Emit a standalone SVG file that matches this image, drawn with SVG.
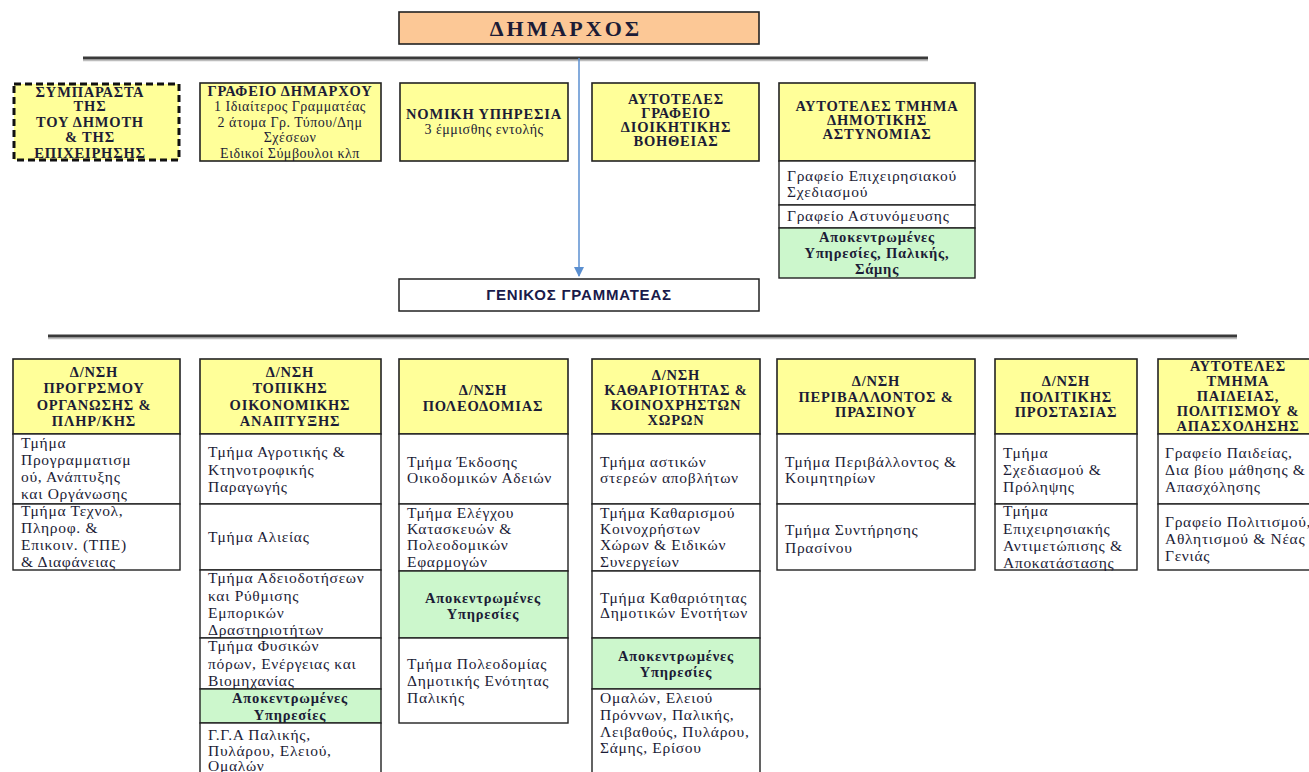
<svg xmlns="http://www.w3.org/2000/svg" width="1309" height="772" viewBox="0 0 1309 772">
<style>
  .y{fill:#ffff99;stroke:#222;stroke-width:1.6}
  .w{fill:#ffffff;stroke:#222;stroke-width:1.4}
  .g{fill:#ccf7cc;stroke:#222;stroke-width:1.4}
  .o{fill:#fcc896;stroke:#222;stroke-width:1.6}
  .dash{fill:#ffff99;stroke:#111;stroke-width:3;stroke-dasharray:7 4}
  text{font-family:"Liberation Serif","Times New Roman",serif;fill:#1c1c36}
  .b{font-weight:bold;font-size:14.5px;text-anchor:middle;letter-spacing:0.8px}
  .c{font-size:14px;text-anchor:middle;letter-spacing:0.5px}
  .r{font-size:15.5px;letter-spacing:0.7px}
  .gb{font-weight:bold;font-size:14.5px;text-anchor:middle;letter-spacing:0.8px}
  .sep{stroke:#3a3a3a;stroke-width:3}
  .sep2{stroke:#bdbdbd;stroke-width:1.5}
</style>
<defs>
  <marker id="ah" viewBox="0 0 10 10" refX="9" refY="5" markerWidth="7" markerHeight="7" orient="auto">
    <path d="M0,0 L10,5 L0,10 z" fill="#5b8fd0"/>
  </marker>
</defs>

<g id="connectors">
  <line class="sep2" x1="83" y1="60.5" x2="928" y2="60.5"/>
  <line class="sep" x1="83" y1="58" x2="928" y2="58"/>
  <line class="sep2" x1="48" y1="338.5" x2="1237" y2="338.5"/>
  <line class="sep" x1="48" y1="336" x2="1237" y2="336"/>
  <line x1="579" y1="58" x2="579" y2="276" stroke="#5b8fd0" stroke-width="1.5" marker-end="url(#ah)"/>
</g>

<g id="dimarxos">
  <rect class="o" x="399" y="12" width="360" height="32"/>
  <text x="566" y="36" style="font-weight:bold;font-size:22px;text-anchor:middle;letter-spacing:3px">ΔΗΜΑΡΧΟΣ</text>
</g>

<g id="symparastatis">
  <rect class="dash" x="14" y="84" width="165" height="76"/>
  <text class="b" x="90" y="97">ΣΥΜΠΑΡΑΣΤΑ</text>
  <text class="b" x="90" y="111">ΤΗΣ</text>
  <text class="b" x="90" y="127">ΤΟΥ ΔΗΜΟΤΗ</text>
  <text class="b" x="90" y="142">&amp; ΤΗΣ</text>
  <text class="b" x="90" y="158">ΕΠΙΧΕΙΡΗΣΗΣ</text>
</g>

<g id="grafeio-dimarxou">
  <rect class="y" x="200" y="83" width="181" height="78"/>
  <text class="b" x="290" y="96">ΓΡΑΦΕΙΟ ΔΗΜΑΡΧΟΥ</text>
  <text class="c" x="290" y="111">1 Ιδιαίτερος Γραμματέας</text>
  <text class="c" x="290" y="127">2 άτομα Γρ. Τύπου/Δημ</text>
  <text class="c" x="290" y="142">Σχέσεων</text>
  <text class="c" x="290" y="158">Ειδικοί Σύμβουλοι κλπ</text>
</g>

<g id="nomiki">
  <rect class="y" x="400" y="83" width="168" height="78"/>
  <text class="b" x="484" y="119">ΝΟΜΙΚΗ ΥΠΗΡΕΣΙΑ</text>
  <text class="c" x="484" y="134">3 έμμισθης εντολής</text>
</g>

<g id="dioikitiki">
  <rect class="y" x="592" y="83" width="167" height="78"/>
  <text class="b" x="676" y="104">ΑΥΤΟΤΕΛΕΣ</text>
  <text class="b" x="676" y="118">ΓΡΑΦΕΙΟ</text>
  <text class="b" x="676" y="132">ΔΙΟΙΚΗΤΙΚΗΣ</text>
  <text class="b" x="676" y="146">ΒΟΗΘΕΙΑΣ</text>
</g>

<g id="astynomia">
  <rect class="y" x="779" y="83" width="196" height="78"/>
  <text class="b" x="877" y="111">ΑΥΤΟΤΕΛΕΣ ΤΜΗΜΑ</text>
  <text class="b" x="877" y="125">ΔΗΜΟΤΙΚΗΣ</text>
  <text class="b" x="877" y="139">ΑΣΤΥΝΟΜΙΑΣ</text>
  <rect class="w" x="779" y="161" width="196" height="44"/>
  <text class="r" x="787" y="181">Γραφείο Επιχειρησιακού</text>
  <text class="r" x="787" y="197">Σχεδιασμού</text>
  <rect class="w" x="779" y="205" width="196" height="23"/>
  <text class="r" x="787" y="221">Γραφείο Αστυνόμευσης</text>
  <rect class="g" x="779" y="228" width="196" height="50"/>
  <text class="gb" x="877" y="242">Αποκεντρωμένες</text>
  <text class="gb" x="877" y="258">Υπηρεσίες, Παλικής,</text>
  <text class="gb" x="877" y="274">Σάμης</text>
</g>

<g id="genikos">
  <rect x="399" y="279" width="360" height="32" fill="#fff" stroke="#222" stroke-width="1.5"/>
  <text x="579" y="300" style="font-family:'Liberation Sans',Arial,sans-serif;font-weight:bold;font-size:15px;letter-spacing:0.8px;text-anchor:middle;fill:#1a1a4a">ΓΕΝΙΚΟΣ ΓΡΑΜΜΑΤΕΑΣ</text>
</g>

<g id="col1">
  <rect class="y" x="13" y="359" width="167" height="75"/>
  <text class="b" x="94" y="377">Δ/ΝΣΗ</text>
  <text class="b" x="94" y="393">ΠΡΟΓΡΣΜΟΥ</text>
  <text class="b" x="94" y="410">ΟΡΓΑΝΩΣΗΣ &amp;</text>
  <text class="b" x="94" y="426">ΠΛΗΡ/ΚΗΣ</text>
  <rect class="w" x="13" y="434" width="167" height="70"/>
  <text class="r" x="21" y="448">Τμήμα</text>
  <text class="r" x="21" y="465">Προγραμματισμ</text>
  <text class="r" x="21" y="482">ού, Ανάπτυξης</text>
  <text class="r" x="21" y="499">και Οργάνωσης</text>
  <rect class="w" x="13" y="504" width="167" height="66"/>
  <text class="r" x="21" y="516">Τμήμα Τεχνολ,</text>
  <text class="r" x="21" y="533">Πληροφ. &amp;</text>
  <text class="r" x="21" y="550">Επικοιν. (ΤΠΕ)</text>
  <text class="r" x="21" y="567">&amp; Διαφάνειας</text>
</g>

<g id="col2">
  <rect class="y" x="200" y="359" width="181" height="75"/>
  <text class="b" x="290" y="377">Δ/ΝΣΗ</text>
  <text class="b" x="290" y="393">ΤΟΠΙΚΗΣ</text>
  <text class="b" x="290" y="410">ΟΙΚΟΝΟΜΙΚΗΣ</text>
  <text class="b" x="290" y="426">ΑΝΑΠΤΥΞΗΣ</text>
  <rect class="w" x="200" y="434" width="181" height="70"/>
  <text class="r" x="208" y="457">Τμήμα Αγροτικής &amp;</text>
  <text class="r" x="208" y="475">Κτηνοτροφικής</text>
  <text class="r" x="208" y="492">Παραγωγής</text>
  <rect class="w" x="200" y="504" width="181" height="66"/>
  <text class="r" x="208" y="542">Τμήμα Αλιείας</text>
  <rect class="w" x="200" y="570" width="181" height="68"/>
  <text class="r" x="208" y="583">Τμήμα Αδειοδοτήσεων</text>
  <text class="r" x="208" y="601">και Ρύθμισης</text>
  <text class="r" x="208" y="618">Εμπορικών</text>
  <text class="r" x="208" y="635">Δραστηριοτήτων</text>
  <rect class="w" x="200" y="638" width="181" height="51"/>
  <text class="r" x="208" y="651">Τμήμα Φυσικών</text>
  <text class="r" x="208" y="669">πόρων, Ενέργειας και</text>
  <text class="r" x="208" y="686">Βιομηχανίας</text>
  <rect class="g" x="200" y="689" width="181" height="34"/>
  <text class="gb" x="290" y="703">Αποκεντρωμένες</text>
  <text class="gb" x="290" y="720">Υπηρεσίες</text>
  <rect class="w" x="200" y="723" width="181" height="55"/>
  <text class="r" x="208" y="740">Γ.Γ.Α Παλικής,</text>
  <text class="r" x="208" y="756">Πυλάρου, Ελειού,</text>
  <text class="r" x="208" y="771">Ομαλών</text>
</g>

<g id="col3">
  <rect class="y" x="399" y="359" width="169" height="75"/>
  <text class="b" x="483" y="395">Δ/ΝΣΗ</text>
  <text class="b" x="483" y="411">ΠΟΛΕΟΔΟΜΙΑΣ</text>
  <rect class="w" x="399" y="434" width="169" height="70"/>
  <text class="r" x="407" y="467">Τμήμα Έκδοσης</text>
  <text class="r" x="407" y="483">Οικοδομικών Αδειών</text>
  <rect class="w" x="399" y="504" width="169" height="67"/>
  <text class="r" x="407" y="518">Τμήμα Ελέγχου</text>
  <text class="r" x="407" y="534">Κατασκευών &amp;</text>
  <text class="r" x="407" y="550">Πολεοδομικών</text>
  <text class="r" x="407" y="567">Εφαρμογών</text>
  <rect class="g" x="399" y="571" width="169" height="67"/>
  <text class="gb" x="483" y="603">Αποκεντρωμένες</text>
  <text class="gb" x="483" y="619">Υπηρεσίες</text>
  <rect class="w" x="399" y="638" width="169" height="85"/>
  <text class="r" x="407" y="669">Τμήμα Πολεοδομίας</text>
  <text class="r" x="407" y="686">Δημοτικής Ενότητας</text>
  <text class="r" x="407" y="703">Παλικής</text>
</g>

<g id="col4">
  <rect class="y" x="592" y="359" width="168" height="75"/>
  <text class="b" x="676" y="380">Δ/ΝΣΗ</text>
  <text class="b" x="676" y="395">ΚΑΘΑΡΙΟΤΗΤΑΣ &amp;</text>
  <text class="b" x="676" y="410">ΚΟΙΝΟΧΡΗΣΤΩΝ</text>
  <text class="b" x="676" y="425">ΧΩΡΩΝ</text>
  <rect class="w" x="592" y="434" width="168" height="70"/>
  <text class="r" x="600" y="467">Τμήμα αστικών</text>
  <text class="r" x="600" y="483">στερεών αποβλήτων</text>
  <rect class="w" x="592" y="504" width="168" height="67"/>
  <text class="r" x="600" y="518">Τμήμα Καθαρισμού</text>
  <text class="r" x="600" y="534">Κοινοχρήστων</text>
  <text class="r" x="600" y="550">Χώρων &amp; Ειδικών</text>
  <text class="r" x="600" y="567">Συνεργείων</text>
  <rect class="w" x="592" y="571" width="168" height="67"/>
  <text class="r" x="600" y="603">Τμήμα Καθαριότητας</text>
  <text class="r" x="600" y="618">Δημοτικών Ενοτήτων</text>
  <rect class="g" x="592" y="638" width="168" height="51"/>
  <text class="gb" x="676" y="661">Αποκεντρωμένες</text>
  <text class="gb" x="676" y="677">Υπηρεσίες</text>
  <rect class="w" x="592" y="689" width="168" height="90"/>
  <text class="r" x="600" y="703">Ομαλών, Ελειού</text>
  <text class="r" x="600" y="720">Πρόννων, Παλικής,</text>
  <text class="r" x="600" y="737">Λειβαθούς, Πυλάρου,</text>
  <text class="r" x="600" y="753">Σάμης, Ερίσου</text>
</g>

<g id="col5">
  <rect class="y" x="777" y="359" width="198" height="75"/>
  <text class="b" x="876" y="386">Δ/ΝΣΗ</text>
  <text class="b" x="876" y="402">ΠΕΡΙΒΑΛΛΟΝΤΟΣ &amp;</text>
  <text class="b" x="876" y="417">ΠΡΑΣΙΝΟΥ</text>
  <rect class="w" x="777" y="434" width="198" height="70"/>
  <text class="r" x="785" y="467">Τμήμα Περιβάλλοντος &amp;</text>
  <text class="r" x="785" y="483">Κοιμητηρίων</text>
  <rect class="w" x="777" y="504" width="198" height="66"/>
  <text class="r" x="785" y="535">Τμήμα Συντήρησης</text>
  <text class="r" x="785" y="553">Πρασίνου</text>
</g>

<g id="col6">
  <rect class="y" x="995" y="359" width="142" height="75"/>
  <text class="b" x="1066" y="386">Δ/ΝΣΗ</text>
  <text class="b" x="1066" y="402">ΠΟΛΙΤΙΚΗΣ</text>
  <text class="b" x="1066" y="417">ΠΡΟΣΤΑΣΙΑΣ</text>
  <rect class="w" x="995" y="434" width="142" height="70"/>
  <text class="r" x="1003" y="458">Τμήμα</text>
  <text class="r" x="1003" y="475">Σχεδιασμού &amp;</text>
  <text class="r" x="1003" y="492">Πρόληψης</text>
  <rect class="w" x="995" y="504" width="142" height="66"/>
  <text class="r" x="1003" y="516">Τμήμα</text>
  <text class="r" x="1003" y="534">Επιχειρησιακής</text>
  <text class="r" x="1003" y="551">Αντιμετώπισης &amp;</text>
  <text class="r" x="1003" y="568">Αποκατάστασης</text>
</g>

<g id="col7">
  <rect class="y" x="1158" y="359" width="160" height="75"/>
  <text class="b" x="1238" y="371">ΑΥΤΟΤΕΛΕΣ</text>
  <text class="b" x="1238" y="386">ΤΜΗΜΑ</text>
  <text class="b" x="1238" y="401">ΠΑΙΔΕΙΑΣ,</text>
  <text class="b" x="1238" y="416">ΠΟΛΙΤΙΣΜΟΥ &amp;</text>
  <text class="b" x="1238" y="431">ΑΠΑΣΧΟΛΗΣΗΣ</text>
  <rect class="w" x="1158" y="434" width="160" height="70"/>
  <text class="r" x="1165" y="458">Γραφείο Παιδείας,</text>
  <text class="r" x="1165" y="475">Δια βίου μάθησης &amp;</text>
  <text class="r" x="1165" y="492">Απασχόλησης</text>
  <rect class="w" x="1158" y="504" width="160" height="66"/>
  <text class="r" x="1165" y="527">Γραφείο Πολιτισμού,</text>
  <text class="r" x="1165" y="544">Αθλητισμού &amp; Νέας</text>
  <text class="r" x="1165" y="561">Γενιάς</text>
</g>
</svg>
